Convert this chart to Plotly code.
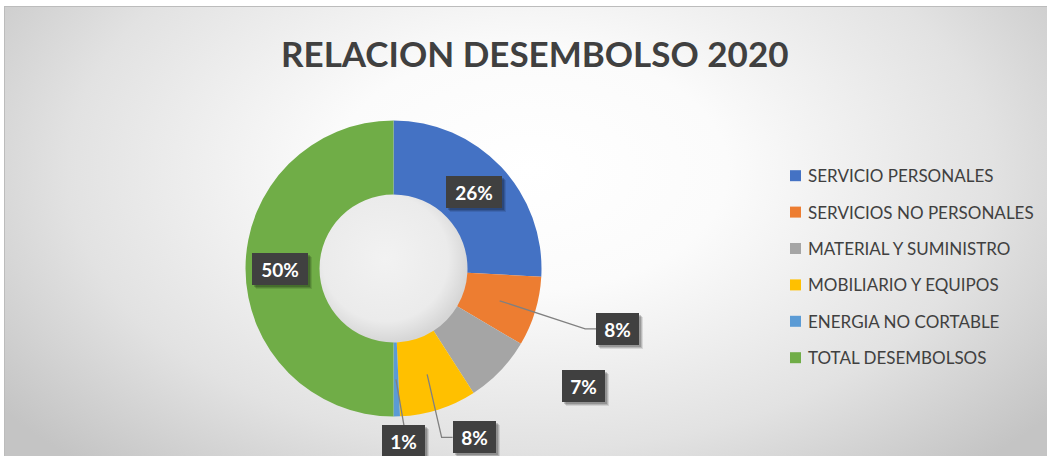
import math
import base64
import plotly.graph_objects as go

# ---------------- data ----------------
categories = ["SERVICIO PERSONALES", "SERVICIOS NO PERSONALES", "MATERIAL Y SUMINISTRO",
              "MOBILIARIO Y EQUIPOS", "ENERGIA NO CORTABLE", "TOTAL DESEMBOLSOS"]
shares = [25.9, 7.6, 7.4, 8.4, 0.7, 50.0]
colors = ["#4472C4", "#ED7D31", "#A5A5A5", "#FFC000", "#5B9BD5", "#70AD47"]
title_text = "RELACION DESEMBOLSO 2020"

# ---------------- layout geometry (pixels) ----------------
W, H = 1047, 456
CX, CY, R = 393.5, 268.5, 148
HOLE = 0.5
ANCHOR_R = 111

# label placement: pixel offset from the slice anchor, and leader type
label_style = [
    dict(off=(0, 0), leader=None),
    dict(off=(118, 28), leader="elbow"),
    dict(off=(110, 41), leader=None),
    dict(off=(47, 63), leader="elbow"),
    dict(off=(8, 62), leader="top"),
    dict(off=(-3, 0), leader=None),
]


def px(x):
    return x / W


def py(y):
    return 1 - y / H


FONT = "Lato, 'Open Sans', sans-serif"

fig = go.Figure()
fig.add_trace(go.Pie(
    labels=categories, values=shares,
    marker=dict(colors=colors, line=dict(width=0)),
    hole=HOLE, sort=False, direction="clockwise", rotation=0,
    textinfo="none", showlegend=False, hoverinfo="label+percent",
    domain=dict(x=[px(CX - R), px(CX + R)], y=[py(CY + R), py(CY - R)]),
))

# background gradient (chart area) + soft shading inside the hole
hr = R * HOLE
svg = f'''<svg xmlns="http://www.w3.org/2000/svg" width="{W}" height="{H}" viewBox="0 0 {W} {H}">
<defs>
<radialGradient id="g" gradientUnits="userSpaceOnUse" cx="0" cy="0" r="1"
 gradientTransform="translate(530 170) scale(660 400)">
<stop offset="0" stop-color="#ffffff"/><stop offset="0.3" stop-color="#fbfbfb"/>
<stop offset="0.7" stop-color="#e2e2e2"/>
<stop offset="1" stop-color="#c4c4c4"/></radialGradient>
<radialGradient id="h" gradientUnits="userSpaceOnUse" cx="{CX - 8}" cy="{CY - 10}" r="{hr + 10}">
<stop offset="0" stop-color="#f2f2f2"/><stop offset="0.75" stop-color="#ebebeb"/>
<stop offset="1" stop-color="#d6d6d6"/></radialGradient>
</defs>
<rect x="0" y="0" width="{W}" height="{H}" fill="#ffffff"/>
<rect x="4.5" y="6.5" width="{W + 10}" height="{H + 10}" fill="url(#g)" stroke="#bcbcbc" stroke-width="1"/>
<circle cx="{CX}" cy="{CY}" r="{hr + 2}" fill="url(#h)"/>
</svg>'''
src = "data:image/svg+xml;base64," + base64.b64encode(svg.encode()).decode()

shapes = []
annotations = []

# title
annotations.append(dict(
    text=f"<b>{title_text}</b>", x=px(534), y=py(53), xref="paper", yref="paper",
    xanchor="center", yanchor="middle", showarrow=False,
    font=dict(family=FONT, size=35, color="#404040"),
))

# data labels
total = sum(shares)
cum = 0.0
for i, v in enumerate(shares):
    mid = (cum + v / 2) / total * 2 * math.pi
    cum += v
    ax = CX + ANCHOR_R * math.sin(mid)
    ay = CY - ANCHOR_R * math.cos(mid)
    st = label_style[i]
    lx, ly = ax + st["off"][0], ay + st["off"][1]
    txt = f"{round(v / total * 100)}%"
    bw = 56 if len(txt) >= 3 else 43
    bh = 32
    if st["leader"] == "elbow":
        left = lx - bw / 2
        shapes.append(dict(type="path", xref="paper", yref="paper",
                           path=f"M {px(ax)},{py(ay)} L {px(left - 11)},{py(ly)} L {px(left)},{py(ly)}",
                           line=dict(color="#808080", width=1.3)))
    elif st["leader"] == "top":
        shapes.append(dict(type="path", xref="paper", yref="paper",
                           path=f"M {px(ax)},{py(ay)} L {px(lx)},{py(ly - bh / 2)}",
                           line=dict(color="#808080", width=1.3)))
    # soft shadow
    for k, a in ((4, 0.10), (3, 0.14), (2, 0.18)):
        annotations.append(dict(
            text=" ", x=px(lx + k), y=py(ly + k), xref="paper", yref="paper",
            xanchor="center", yanchor="middle", showarrow=False,
            width=bw, height=bh, borderpad=0, borderwidth=0,
            bgcolor=f"rgba(0,0,0,{a})",
        ))
    annotations.append(dict(
        text=f"<b>{txt}</b>", x=px(lx), y=py(ly), xref="paper", yref="paper",
        xanchor="center", yanchor="middle", showarrow=False,
        width=bw, height=bh, borderpad=0, borderwidth=0,
        bgcolor="#404040", align="center", valign="middle",
        font=dict(family=FONT, size=19, color="#ffffff"),
    ))

# legend (manual)
for i, cat in enumerate(categories):
    yc = 175.7 + i * 36.4
    shapes.append(dict(type="rect", xref="paper", yref="paper",
                       x0=px(790), x1=px(801), y0=py(yc + 5.5), y1=py(yc - 5.5),
                       fillcolor=colors[i], line=dict(width=0)))
    annotations.append(dict(
        text=cat, x=px(806), y=py(yc), xref="paper", yref="paper",
        xanchor="left", yanchor="middle", showarrow=False,
        font=dict(family=FONT, size=17, color="#404040"),
    ))

fig.update_layout(
    width=W, height=H,
    margin=dict(l=0, r=0, t=0, b=0),
    paper_bgcolor="#ffffff", plot_bgcolor="rgba(0,0,0,0)",
    images=[dict(source=src, xref="paper", yref="paper", x=0, y=1, sizex=1, sizey=1,
                 xanchor="left", yanchor="top", sizing="stretch", layer="below")],
    shapes=shapes, annotations=annotations,
    showlegend=False,
)

fig.write_html("out.html", config={"displayModeBar": False},
               post_script="document.body.style.margin='0';document.body.style.overflow='hidden';")
